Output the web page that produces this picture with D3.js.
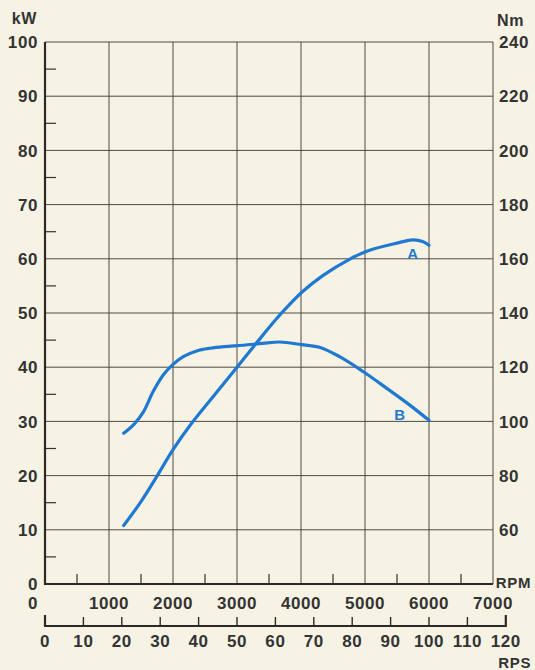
<!DOCTYPE html>
<html>
<head>
<meta charset="utf-8">
<script src="https://cdn.jsdelivr.net/npm/d3@7"></script>
<style>
    html, body { margin: 0; padding: 0; background: #f7f3e4; }
    text { font-family: 'Liberation Sans', Arial, sans-serif; font-weight: bold; fill: #333; letter-spacing: 0.6px; }
</style>
</head>
<body>
<svg id="chart"></svg>
<script>
// tick labels
const rpmTicks = [0, 1000, 2000, 3000, 4000, 5000, 6000, 7000];
const kwTicks = [0, 10, 20, 30, 40, 50, 60, 70, 80, 90, 100];
const nmTicks = [60, 80, 100, 120, 140, 160, 180, 200, 220, 240];
const rpsTicks = [0, 10, 20, 30, 40, 50, 60, 70, 80, 90, 100, 110, 120];

// curve A: power (kW) over rpm
const powerRpm = [1230, 1500, 1750, 2000, 2300, 2600, 3000, 3300, 3600, 3800, 4030, 4340, 4770, 5050, 5500, 5750, 5900, 6000];
const powerKw = [10.8, 15.2, 19.9, 24.8, 29.8, 34.2, 40.0, 44.4, 48.7, 51.3, 54.0, 56.9, 60.0, 61.5, 62.9, 63.5, 63.2, 62.5];

// curve B: torque (Nm) over rpm
const torqueRpm = [1230, 1400, 1540, 1690, 1850, 1980, 2160, 2370, 2580, 2800, 3100, 3400, 3670, 4010, 4300, 4610, 4970, 5340, 5700, 6000];
const torqueNm = [95.6, 99.2, 103.6, 111, 117.2, 120.6, 123.9, 126, 127, 127.6, 128.1, 128.8, 129.3, 128.3, 127.3, 123.8, 118.4, 112.2, 106.0, 100.4];

const width = 535;
const height = 670;
const blue = '#2079d0';
const fontSize = 17;

const svg = d3.select('#chart')
    .attr('width', width)
    .attr('height', height);

// scales
const x = d3.scaleLinear().domain([0, 7000]).range([45, 493]);
const yKw = d3.scaleLinear().domain([0, 100]).range([584, 42]);
const yNm = d3.scaleLinear().domain([40, 240]).range([584, 42]);
const xRps = rps => x(rps * 60);

// grid
const grid = svg.append('g').attr('stroke', '#4a4a4a').attr('stroke-width', 1);

grid.selectAll('.v')
    .data(rpmTicks.slice(1))
    .join('line')
    .attr('x1', d => x(d)).attr('x2', d => x(d))
    .attr('y1', yKw(100)).attr('y2', yKw(0));

grid.selectAll('.h')
    .data(kwTicks.slice(1))
    .join('line')
    .attr('x1', x(0)).attr('x2', x(7000))
    .attr('y1', d => yKw(d)).attr('y2', d => yKw(d));

// minor ticks on left axis and bottom axis
const minor = svg.append('g').attr('stroke', '#333').attr('stroke-width', 1.2);

minor.selectAll('.mk')
    .data(d3.range(5, 100, 10))
    .join('line')
    .attr('x1', x(0)).attr('x2', x(0) + 11)
    .attr('y1', d => yKw(d)).attr('y2', d => yKw(d));

minor.selectAll('.mr')
    .data(d3.range(500, 7000, 1000))
    .join('line')
    .attr('x1', d => x(d)).attr('x2', d => x(d))
    .attr('y1', yKw(0)).attr('y2', yKw(0) - 10);

// main axes lines
svg.append('line')
    .attr('x1', x(0)).attr('x2', x(0))
    .attr('y1', yKw(100)).attr('y2', yKw(0) + 1)
    .attr('stroke', '#2a2a2a').attr('stroke-width', 2.2);

svg.append('line')
    .attr('x1', x(0) - 1).attr('x2', x(7000))
    .attr('y1', yKw(0)).attr('y2', yKw(0))
    .attr('stroke', '#2a2a2a').attr('stroke-width', 2.2);

// left labels
svg.append('g')
    .selectAll('text')
    .data(kwTicks)
    .join('text')
    .attr('x', 38)
    .attr('y', d => yKw(d))
    .attr('dy', '0.36em')
    .attr('text-anchor', 'end')
    .attr('font-size', fontSize)
    .text(d => d);

svg.append('text')
    .attr('x', 37).attr('y', 18).attr('dy', '0.36em')
    .attr('text-anchor', 'end').attr('font-size', 16)
    .text('kW');

// right labels
svg.append('g')
    .selectAll('text')
    .data(nmTicks)
    .join('text')
    .attr('x', 499)
    .attr('y', d => yNm(d))
    .attr('dy', '0.36em')
    .attr('font-size', fontSize)
    .text(d => d);

svg.append('text')
    .attr('x', 497).attr('y', 20).attr('dy', '0.36em')
    .attr('font-size', 16)
    .text('Nm');

// rpm labels
svg.append('g')
    .selectAll('text')
    .data(rpmTicks)
    .join('text')
    .attr('x', d => d === 0 ? 38 : x(d))
    .attr('y', 603)
    .attr('dy', '0.36em')
    .attr('text-anchor', d => d === 0 ? 'end' : 'middle')
    .attr('font-size', fontSize)
    .text(d => d);

svg.append('text')
    .attr('x', 531).attr('y', 583).attr('dy', '0.36em')
    .attr('text-anchor', 'end')
    .attr('font-size', 15)
    .text('RPM');

// rps axis
svg.append('line')
    .attr('x1', xRps(0) - 1).attr('x2', xRps(120) + 1)
    .attr('y1', 626).attr('y2', 626)
    .attr('stroke', '#2a2a2a').attr('stroke-width', 2.2);

svg.append('g')
    .attr('stroke', '#2a2a2a')
    .selectAll('line')
    .data(rpsTicks)
    .join('line')
    .attr('x1', d => xRps(d)).attr('x2', d => xRps(d))
    .attr('y1', 626).attr('y2', d => (d === 0 || d === 120) ? 615 : 617)
    .attr('stroke-width', d => (d === 0 || d === 120) ? 2.2 : 1.4);

svg.append('g')
    .selectAll('text')
    .data(rpsTicks)
    .join('text')
    .attr('x', d => xRps(d))
    .attr('y', 641)
    .attr('dy', '0.36em')
    .attr('text-anchor', 'middle')
    .attr('font-size', fontSize)
    .text(d => d);

svg.append('text')
    .attr('x', 531).attr('y', 663).attr('dy', '0.36em')
    .attr('text-anchor', 'end')
    .attr('font-size', 15)
    .text('RPS');

// curves
const powerLine = d3.line()
    .x(d => x(d[0]))
    .y(d => yKw(d[1]))
    .curve(d3.curveCatmullRom);

const torqueLine = d3.line()
    .x(d => x(d[0]))
    .y(d => yNm(d[1]))
    .curve(d3.curveCatmullRom);

svg.append('path')
    .datum(d3.zip(powerRpm, powerKw))
    .attr('d', powerLine)
    .attr('fill', 'none')
    .attr('stroke', blue)
    .attr('stroke-width', 3.2)
    .attr('stroke-linecap', 'round');

svg.append('path')
    .datum(d3.zip(torqueRpm, torqueNm))
    .attr('d', torqueLine)
    .attr('fill', 'none')
    .attr('stroke', blue)
    .attr('stroke-width', 3.2)
    .attr('stroke-linecap', 'round');

// curve labels
svg.append('text')
    .attr('x', 413).attr('y', 254).attr('dy', '0.36em')
    .attr('text-anchor', 'middle').attr('font-size', 15)
    .style('fill', blue)
    .text('A');

svg.append('text')
    .attr('x', 400).attr('y', 415).attr('dy', '0.36em')
    .attr('text-anchor', 'middle').attr('font-size', 15)
    .style('fill', blue)
    .text('B');
</script>
</body>
</html>
